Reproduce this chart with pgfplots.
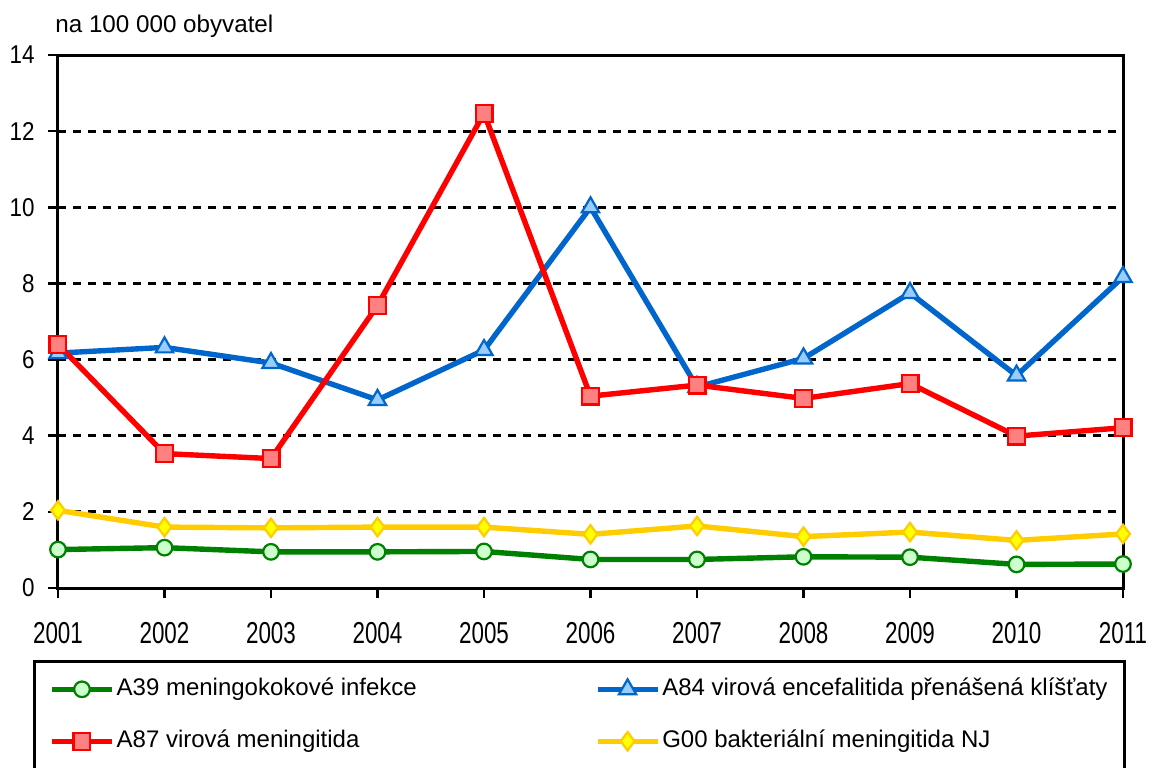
\documentclass[border=0pt]{standalone}
\usepackage{fontspec}
\setmainfont{Liberation Sans}
\usepackage{graphicx}
\usepackage{pgfplots}
\pgfplotsset{compat=1.18}
\definecolor{cgreen}{RGB}{0,128,0}
\definecolor{cgreenfill}{RGB}{204,255,204}
\definecolor{cblue}{RGB}{0,102,204}
\definecolor{cbluefill}{RGB}{153,204,255}
\definecolor{cred}{RGB}{255,0,0}
\definecolor{credfill}{RGB}{255,128,128}
\definecolor{cyellow}{RGB}{255,204,0}
\definecolor{cyellowfill}{RGB}{255,255,0}
\begin{document}
\begin{tikzpicture}
\path[use as bounding box] (-29pt,-89.5pt) rectangle (548.5pt,294pt);
\begin{axis}[
  name=ax, at={(0,0)}, anchor=south west,
  scale only axis, width=532.5pt, height=266.5pt,
  xmin=2001, xmax=2011, ymin=0, ymax=14,
  xtick={2001,2002,2003,2004,2005,2006,2007,2008,2009,2010,2011},
  xticklabels={\scalebox{1}[1.35]{2001},\scalebox{1}[1.35]{2002},\scalebox{1}[1.35]{2003},\scalebox{1}[1.35]{2004},\scalebox{1}[1.35]{2005},\scalebox{1}[1.35]{2006},\scalebox{1}[1.35]{2007},\scalebox{1}[1.35]{2008},\scalebox{1}[1.35]{2009},\scalebox{1}[1.35]{2010},\scalebox{1}[1.35]{2011}},
  ytick={0,2,4,6,8,10,12,14},
  yticklabels={\scalebox{1}[1.15]{0},\scalebox{1}[1.15]{2},\scalebox{1}[1.15]{4},\scalebox{1}[1.15]{6},\scalebox{1}[1.15]{8},\scalebox{1}[1.15]{10},\scalebox{1}[1.15]{12},\scalebox{1}[1.15]{14}},
  tick pos=left, tick align=outside, major tick length=5pt,
  every tick/.style={black, line width=1.3pt},
  axis line style={black, line width=1.5pt},
  ymajorgrids,
  grid style={black, line width=1.5pt, dash pattern=on 4pt off 3.5pt},
  xticklabel style={font=\fontsize{11.2}{13}\selectfont, inner sep=0pt, anchor=north, yshift=-12pt},
  yticklabel style={font=\fontsize{11.2}{13}\selectfont, inner sep=0pt, anchor=east, xshift=-6.5pt},
  legend columns=2,
  legend cell align=left,
  legend image code/.code={\draw[mark repeat=2,mark phase=2] plot coordinates {(0pt,0pt) (15pt,0pt) (30pt,0pt)};},
  legend style={at={(axis description cs:0,0)}, anchor=north west, xshift=-12.5pt, yshift=-36pt,
    draw=black, line width=1.3pt, fill=white, inner xsep=7.5pt, inner ysep=1pt,
    font=\fontsize{12}{14}\selectfont,
    nodes={inner xsep=1pt, inner ysep=7pt, text height=9pt, text depth=3pt},
    /tikz/every even column/.append style={column sep=88pt}},
]
\addplot[color=cgreen, line width=2.7pt, mark=*, mark size=3.9pt,
  mark options={fill=cgreenfill, draw=cgreen, line width=1.1pt, solid}]
  coordinates {(2001,1.01) (2002,1.06) (2003,0.95) (2004,0.95) (2005,0.96) (2006,0.75) (2007,0.75) (2008,0.82) (2009,0.81) (2010,0.62) (2011,0.63)};
\addlegendentry{A39 meningokokové infekce}
\addplot[color=cblue, line width=2.7pt, mark=triangle*, mark size=5pt,
  mark options={fill=cbluefill, draw=cblue, line width=1.1pt, solid}]
  coordinates {(2001,6.17) (2002,6.32) (2003,5.91) (2004,4.94) (2005,6.25) (2006,10.0) (2007,5.28) (2008,6.03) (2009,7.75) (2010,5.58) (2011,8.17)};
\addlegendentry{A84 virová encefalitida přenášená klíšťaty}
\addplot[color=cred, line width=2.7pt, mark=square*, mark size=4.2pt,
  mark options={fill=credfill, draw=cred, line width=1.1pt, solid}]
  coordinates {(2001,6.40) (2002,3.53) (2003,3.40) (2004,7.42) (2005,12.47) (2006,5.04) (2007,5.33) (2008,4.98) (2009,5.37) (2010,3.99) (2011,4.21)};
\addlegendentry{A87 virová meningitida}
\addplot[color=cyellow, line width=2.7pt, mark=diamond*, mark size=4.6pt,
  mark options={fill=cyellowfill, draw=cyellow, line width=1.1pt, solid}]
  coordinates {(2001,2.04) (2002,1.60) (2003,1.58) (2004,1.60) (2005,1.60) (2006,1.41) (2007,1.63) (2008,1.35) (2009,1.47) (2010,1.25) (2011,1.42)};
\addlegendentry{G00 bakteriální meningitida NJ}
\end{axis}
\node[anchor=base west, inner sep=0pt, font=\fontsize{12.1}{14}\selectfont] at (-1.5pt,277.5pt) {na 100 000 obyvatel};
\end{tikzpicture}
\end{document}
